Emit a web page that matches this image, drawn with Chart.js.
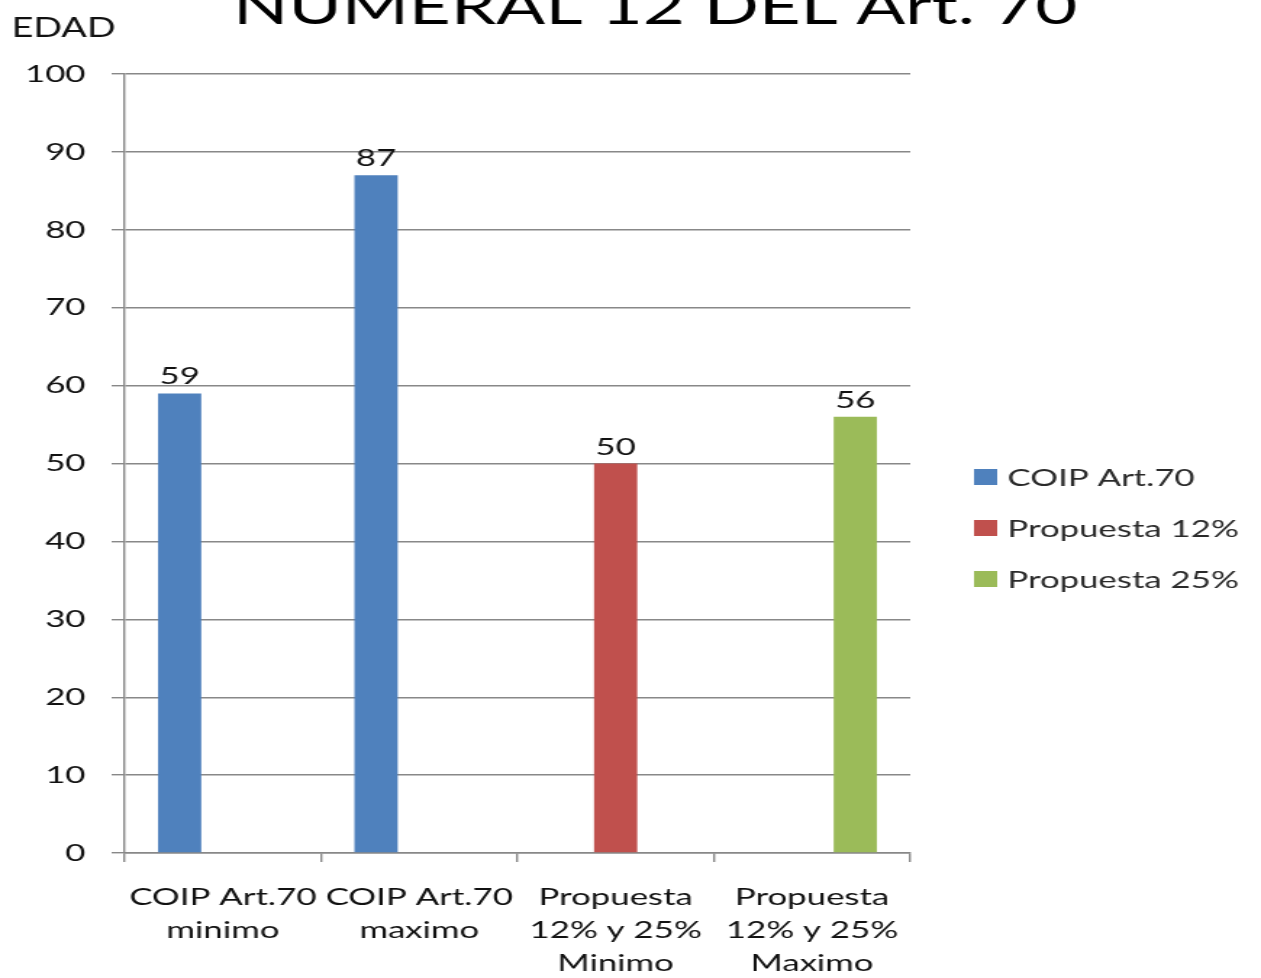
<!DOCTYPE html>
<html>
<head>
<meta charset="utf-8">
<title>NUMERAL 12 DEL Art. 70</title>
<script src="https://cdn.jsdelivr.net/npm/chart.js@4.4.1/dist/chart.umd.min.js"></script>
<style>
  html, body { margin: 0; padding: 0; background: #fff; overflow: hidden; }
  /* the chart is drawn narrow and widened, which gives the broad lettering */
  #edad { display: block; width: 1261px; height: 978px; }
</style>
</head>
<body>
<canvas id="edad" width="870" height="978" style="width:1261px;height:978px"></canvas>
<script>
// ── Data ──────────────────────────────────────────────────────────
const TITLE      = 'NUMERAL 12 DEL Art. 70';
const AXIS_TITLE = 'EDAD';

const CATEGORIES = [
  ['COIP Art.70', 'minimo'],
  ['COIP Art.70', 'maximo'],
  ['Propuesta', '12% y 25%', 'Minimo'],
  ['Propuesta', '12% y 25%', 'Maximo'],
];

const SERIES_NAMES  = ['COIP Art.70', 'Propuesta 12%', 'Propuesta 25%'];
const SERIES_COLORS = ['#4F81BD', '#C0504D', '#9BBB59'];

const COIP_VALUES = [59, 87, null, null];
const P12_VALUES  = [null, null, 50, null];
const P25_VALUES  = [null, null, null, 56];

const Y_MIN = 0, Y_MAX = 100, Y_STEP = 10;

// ── Look ──────────────────────────────────────────────────────────
const FONT = 'Lato, "Open Sans", sans-serif';
const GRID = '#888888';
const TEXT = '#111111';
const AREA = { left: 86, right: 628, top: 74, bottom: 853 };

// title + "EDAD" in the top band
const headerText = {
  id: 'headerText',
  afterDraw(chart) {
    const ctx = chart.ctx;
    ctx.save();
    ctx.fillStyle = '#000';
    ctx.textBaseline = 'alphabetic';
    ctx.textAlign = 'center';
    ctx.font = `50px ${FONT}`;
    ctx.fillText(TITLE, 452, 24);
    ctx.textAlign = 'left';
    ctx.font = `26px ${FONT}`;
    ctx.fillStyle = TEXT;
    ctx.fillText(AXIS_TITLE, 8, 37);
    ctx.restore();
  }
};

// value written above each bar
const valueLabels = {
  id: 'valueLabels',
  afterDatasetsDraw(chart) {
    const ctx = chart.ctx;
    ctx.save();
    ctx.font = `24px ${FONT}`;
    ctx.fillStyle = TEXT;
    ctx.textAlign = 'center';
    ctx.textBaseline = 'alphabetic';
    chart.data.datasets.forEach((ds, di) => {
      chart.getDatasetMeta(di).data.forEach((bar, i) => {
        const v = ds.data[i];
        if (v == null) return;
        ctx.fillText(String(v), bar.x, bar.y - 9);
      });
    });
    ctx.restore();
  }
};

// legend column to the right of the plot
const sideLegend = {
  id: 'sideLegend',
  afterDraw(chart) {
    const ctx = chart.ctx;
    ctx.save();
    ctx.font = `24px ${FONT}`;
    ctx.textBaseline = 'middle';
    ctx.textAlign = 'left';
    chart.data.datasets.forEach((ds, i) => {
      const cy = 477 + i * 51;
      ctx.fillStyle = ds.backgroundColor;
      ctx.fillRect(672, cy - 8, 16, 16);
      ctx.fillStyle = '#2a2a2a';
      ctx.fillText(ds.label, 695, cy + 1);
    });
    ctx.restore();
  }
};

const ctx = document.getElementById('edad').getContext('2d');

function build() {
  new Chart(ctx, {
    type: 'bar',
    data: {
      labels: CATEGORIES,
      datasets: [COIP_VALUES, P12_VALUES, P25_VALUES].map((vals, i) => ({
        label:           SERIES_NAMES[i],
        data:            vals,
        backgroundColor: SERIES_COLORS[i],
        borderWidth:     0,
        categoryPercentage: 0.66,
        barPercentage:   1.0,
      }))
    },
    options: {
      responsive:       false,
      devicePixelRatio: 1,
      animation:        false,
      layout: { padding: { top: AREA.top, left: 0, right: 870 - AREA.right, bottom: 0 } },
      scales: {
        x: {
          offset: true,
          grid:   { display: true, drawOnChartArea: false, offset: true, color: GRID, lineWidth: 1.4, tickLength: 9 },
          border: { display: true, color: GRID, width: 1.4 },
          ticks:  { color: TEXT, font: { family: FONT, size: 24, lineHeight: '33px' }, padding: 19, maxRotation: 0, autoSkip: false },
          afterFit: s => { s.height = 978 - AREA.bottom; },
        },
        y: {
          min: Y_MIN, max: Y_MAX,
          ticks:  { stepSize: Y_STEP, color: TEXT, font: { family: FONT, size: 24 }, padding: 18 },
          grid:   { color: GRID, lineWidth: 1.4, tickLength: 9 },
          border: { display: true, color: GRID, width: 1.4 },
          afterFit: s => { s.width = AREA.left; },
        }
      },
      plugins: {
        legend:  { display: false },
        tooltip: { enabled: false },
      }
    },
    plugins: [headerText, valueLabels, sideLegend]
  });
}

// make sure the installed face is ready before drawing text on canvas
if (document.fonts && document.fonts.load) {
  Promise.all([document.fonts.load(`24px Lato`), document.fonts.load(`50px Lato`)])
    .then(build, build);
} else {
  build();
}
</script>
</body>
</html>
